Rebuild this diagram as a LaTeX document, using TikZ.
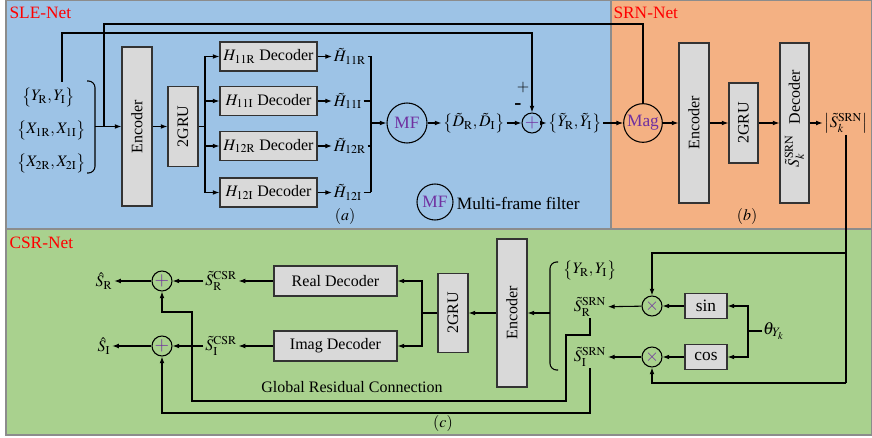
\documentclass[tikz,border=0pt]{standalone}
\usepackage{graphicx}
\usepackage{mathptmx}
\usepackage[no-math]{fontspec}
\setmainfont{Liberation Serif}
\usetikzlibrary{arrows.meta}
\definecolor{pblue}{HTML}{9DC3E6}
\definecolor{porange}{HTML}{F4B183}
\definecolor{pgreen}{HTML}{A9D18E}
\definecolor{bgray}{HTML}{D9D9D9}
\definecolor{mfpurple}{HTML}{7030A0}
\definecolor{netred}{HTML}{FF0000}
\begin{document}
\begin{tikzpicture}[x=0.75pt,y=-0.75pt,
  font=\fontsize{12}{14}\selectfont,
  line width=0.8pt,
  arr/.style={-{Latex[length=5pt,width=3.6pt]}},
  blk/.style={draw=black!80, fill=bgray, line width=0.8pt, inner sep=0pt},
  vblk/.style={blk, minimum width=22.5pt},
  circ/.style={draw=black, circle, inner sep=0pt, line width=0.8pt},
  lbl/.style={inner sep=1pt},
  big/.style={font=\fontsize{13}{15}\selectfont},
  netlbl/.style={text=netred, font=\fontsize{13}{15}\selectfont, anchor=west, inner sep=0pt},
  panel/.style={draw=black!45, line width=1pt}
]
\useasboundingbox (0,0) rectangle (872,438);
% panels
\path[fill=pblue, panel] (6,0) rectangle (611,229);
\path[fill=porange, panel] (611,0) rectangle (872,229);
\path[fill=pgreen, panel] (6,229) rectangle (872,435);
\node[netlbl] (sle) at (9,13) {SLE-Net};
\node[netlbl] (srn) at (613,13) {SRN-Net};
\node[netlbl] (csr) at (9,243) {CSR-Net};

% ---------------- SLE-Net ----------------
\node[lbl] (yin) at (48.5,97) {$\bigl\{Y_{\mathrm R},Y_{\mathrm I}\bigr\}$};
\node[lbl] (x1) at (51.5,130) {$\bigl\{X_{1\mathrm R},X_{1\mathrm I}\bigr\}$};
\node[lbl] (x2) at (51.5,163) {$\bigl\{X_{2\mathrm R},X_{2\mathrm I}\bigr\}$};
\draw[rounded corners=5pt] (87,81) -- (95,81) -- (95,173) -- (87,173);
\coordinate (brk) at (95,126.5);
\coordinate (j1) at (104,126.5);

\node[vblk, minimum height=119.25pt] (enc1) at (137,126.5) {\rotatebox{90}{Encoder}};
\node[vblk, minimum height=60pt] (gru1) at (183,126.5) {\rotatebox{90}{2GRU}};
\node[blk, minimum width=72.75pt, minimum height=21.75pt] (d1) at (268.5,56.5) {$H_{11\mathrm R}$ Decoder};
\node[blk, minimum width=72.75pt, minimum height=21.75pt] (d2) at (268.5,101) {$H_{11\mathrm I}$ Decoder};
\node[blk, minimum width=72.75pt, minimum height=21.75pt] (d3) at (268.5,146) {$H_{12\mathrm R}$ Decoder};
\node[blk, minimum width=72.75pt, minimum height=21.75pt] (d4) at (268.5,192.5) {$H_{12\mathrm I}$ Decoder};

\draw[arr] (brk) -- (enc1);
\draw[arr] (enc1) -- (gru1);
\coordinate (g1) at (205,126.5);
\draw (gru1) -- (g1);
\draw[arr] (g1) |- (d1.west);
\draw[arr] (g1) |- (d2.west);
\draw[arr] (g1) |- (d3.west);
\draw[arr] (g1) |- (d4.west);

\node[lbl, anchor=west] (h1) at (332,56.5) {$\tilde H_{11\mathrm R}$};
\node[lbl, anchor=west] (h2) at (332,101) {$\tilde H_{11\mathrm I}$};
\node[lbl, anchor=west] (h3) at (332,146) {$\tilde H_{12\mathrm R}$};
\node[lbl, anchor=west] (h4) at (332,192.5) {$\tilde H_{12\mathrm I}$};
\draw[arr] (d1) -- (h1);
\draw[arr] (d2) -- (h2);
\draw[arr] (d3) -- (h3);
\draw[arr] (d4) -- (h4);
\coordinate (t1) at (371,56.5);
\coordinate (t2) at (371,101);
\coordinate (t3) at (371,146);
\coordinate (t4) at (371,192.5);
\coordinate (tm) at (371,123);
\draw (h1) -- (t1);
\draw (h2) -- (t2);
\draw (h3) -- (t3);
\draw (h4) -- (t4);
\draw (t1) -- (t4);

\node[circ, minimum size=30pt, text=mfpurple, big] (mf) at (407,123) {MF};
\draw[arr] (tm) -- (mf);
\node[lbl] (dlab) at (474,123) {$\bigl\{\tilde D_{\mathrm R},\tilde D_{\mathrm I}\bigr\}$};
\draw[arr] (mf) -- (dlab);
\node[circ, minimum size=15pt, font=\fontsize{14}{14}\selectfont] (pl) at (532,123) {\textcolor{mfpurple}{$+$}};
\draw[arr] (dlab) -- (pl);
\node[lbl] (ylab) at (575,123) {$\bigl\{\tilde Y_{\mathrm R},\tilde Y_{\mathrm I}\bigr\}$};
\draw[arr] (pl) -- (ylab);
\node[lbl] (plabel) at (523,88) {$+$};
\node[lbl, font=\fontsize{16}{16}\selectfont\bfseries] (mlabel) at (518,107) {-};

\coordinate (ys) at (62,82);
\coordinate (u2) at (62,33);
\draw[arr] (ys) -- (u2) -| (pl.north);

\node[circ, minimum size=29pt, text=mfpurple, big] (mag) at (643,123) {Mag};
\draw[arr] (ylab) -- (mag);
\coordinate (u1) at (104,24);
\draw (j1) -- (u1) -| (mag.north);

\node[circ, minimum size=27pt, text=mfpurple, big] (mfl) at (435,202) {MF};
\node[lbl, anchor=west, big] (mflt) at (455,203) {Multi-frame filter};
\node (la) at (345,217) {$(a)$};

% ---------------- SRN-Net ----------------
\node[vblk, minimum height=120pt] (enc2) at (694,123) {\rotatebox{90}{Encoder}};
\node[blk, minimum width=21.75pt, minimum height=60pt] (gru2) at (743.5,123) {\rotatebox{90}{2GRU}};
\node[blk, minimum width=21.75pt, minimum height=120pt] (dec2) at (794.5,123) {};
\node[rotate=90, inner sep=0pt] (dec2t) at (794.5,97) {Decoder};
\node[rotate=90, inner sep=0pt] (dec2s) at (794.5,151) {$\tilde S_k^{\mathrm{SRN}}$};
\draw[arr] (mag) -- (enc2);
\draw[arr] (enc2) -- (gru2);
\draw[arr] (gru2) -- (dec2);
\node[lbl] (sk) at (846,123) {$\bigl|\tilde S_k^{\mathrm{SRN}}\bigr|$};
\draw[arr] (dec2) -- (sk);
\node (lb) at (747,217) {$(b)$};

% ---------------- CSR-Net ----------------
\coordinate (c0) at (846,253);
\coordinate (c1) at (846,383);
\draw (sk.south) -- (c1);
\node[circ, minimum size=15pt, font=\fontsize{13}{13}\selectfont] (mulR) at (652,306) {\textcolor{mfpurple}{$\times$}};
\node[circ, minimum size=15pt, font=\fontsize{13}{13}\selectfont] (mulI) at (652,357) {\textcolor{mfpurple}{$\times$}};
\draw[arr] (c0) -| (mulR.north);
\draw[arr] (c1) -| (mulI.south);
\node[blk, minimum width=31.5pt, minimum height=18.75pt, big] (sin) at (706,306) {sin};
\node[blk, minimum width=31.5pt, minimum height=18.75pt, big] (cos) at (706,357) {cos};
\node[inner sep=0.5pt, anchor=west, big] (th) at (762,331) {$\theta_{Y_k}$};
\coordinate (thj) at (748,331);
\draw (th.west) -- (thj);
\draw[arr] (thj) |- (sin.east);
\draw[arr] (thj) |- (cos.east);
\draw[arr] (sin) -- (mulR);
\draw[arr] (cos) -- (mulI);

\node[lbl] (srnR) at (590,307) {$\tilde S_{\mathrm R}^{\mathrm{SRN}}$};
\node[lbl] (srnI) at (590,357) {$\tilde S_{\mathrm I}^{\mathrm{SRN}}$};
\draw[arr] (mulR) -- (srnR);
\draw[arr] (mulI) -- (srnI);
\node[lbl] (yc) at (590,270) {$\bigl\{Y_{\mathrm R},Y_{\mathrm I}\bigr\}$};
\draw[rounded corners=5pt] (558,262) -- (550,262) -- (550,370) -- (558,370);
\coordinate (brk2) at (550,313);

\node[vblk, minimum height=111pt] (enc3) at (512,313) {\rotatebox{90}{Encoder}};
\node[vblk, minimum height=59.25pt] (gru3) at (453,313) {\rotatebox{90}{2GRU}};
\draw[arr] (brk2) -- (enc3);
\draw[arr] (enc3) -- (gru3);
\coordinate (g3) at (422,313);
\draw (gru3) -- (g3);
\node[blk, minimum width=92.25pt, minimum height=22.5pt] (rdec) at (335.5,281) {Real Decoder};
\node[blk, minimum width=92.25pt, minimum height=22.5pt] (idec) at (335.5,346) {Imag Decoder};
\draw[arr] (g3) |- (rdec.east);
\draw[arr] (g3) |- (idec.east);

\node[lbl] (csrR) at (221,281) {$\tilde S_{\mathrm R}^{\mathrm{CSR}}$};
\node[lbl] (csrI) at (221,346) {$\tilde S_{\mathrm I}^{\mathrm{CSR}}$};
\draw[arr] (rdec) -- (csrR);
\draw[arr] (idec) -- (csrI);
\node[circ, minimum size=15pt, font=\fontsize{14}{14}\selectfont] (addR) at (162,281) {\textcolor{mfpurple}{$+$}};
\node[circ, minimum size=15pt, font=\fontsize{14}{14}\selectfont] (addI) at (162,346) {\textcolor{mfpurple}{$+$}};
\draw[arr] (csrR) -- (addR);
\draw[arr] (csrI) -- (addI);
\node[lbl] (outR) at (104,281) {$\hat S_{\mathrm R}$};
\node[lbl] (outI) at (104,346) {$\hat S_{\mathrm I}$};
\draw[arr] (addR) -- (outR);
\draw[arr] (addI) -- (outI);

\coordinate (r1) at (566,335);
\coordinate (r2) at (566,401);
\coordinate (r3) at (192,312);
\draw[arr] (srnR.south) |- (r1) -- (r2) -| (r3) -| (addR.south);
\coordinate (r4) at (162,413);
\draw[arr] (srnI.south) |- (r4) -- (addI.south);

\node (grc) at (352,387) {Global Residual Connection};
\node (lc) at (443,424) {$(c)$};
\end{tikzpicture}
\end{document}
